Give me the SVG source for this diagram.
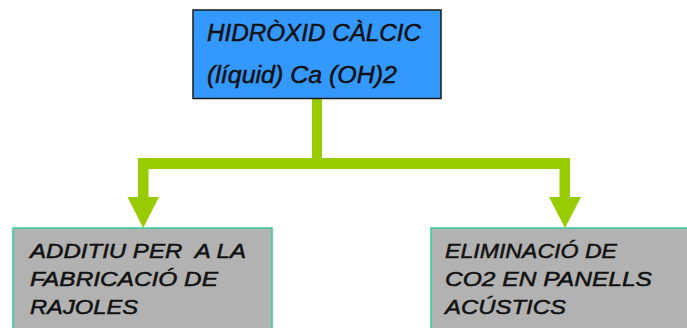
<svg xmlns="http://www.w3.org/2000/svg" width="687" height="328" viewBox="0 0 687 328">
<style>
.t{font-family:"Liberation Sans",Arial,sans-serif;font-style:italic;fill:#111;stroke:#111;stroke-width:0.5;white-space:pre;}
.top{font-size:23px;}
.bot{font-size:20.5px;}
.bar{fill:#99cc00;}
</style>
<rect width="687" height="328" fill="#fff"/>
<g id="connectors">
<rect class="bar" x="312" y="98" width="10" height="71"/>
<rect class="bar" x="138" y="158" width="432" height="11"/>
<rect class="bar" x="138" y="158" width="10.5" height="40"/>
<rect class="bar" x="559.5" y="158" width="10.5" height="40"/>
<polygon class="bar" points="127.5,197 159,197 143.2,228"/>
<polygon class="bar" points="549,197 581,197 565,228"/>
</g>
<g id="node-top">
<rect x="193" y="10" width="248" height="88.5" fill="#3399ff" stroke="#1a1a1a" stroke-width="1.5"/>
<text class="t top" x="207" y="41" textLength="214" lengthAdjust="spacingAndGlyphs">HIDRÒXID CÀLCIC</text>
<text class="t top" x="207" y="83" textLength="190" lengthAdjust="spacingAndGlyphs">(líquid) Ca (OH)2</text>
</g>
<g id="node-left">
<rect x="13" y="228" width="259" height="110" fill="#b2b2b2" stroke="#33cc99" stroke-width="1.5"/>
<text class="t bot" x="30" y="258" textLength="216" lengthAdjust="spacingAndGlyphs">ADDITIU PER  A LA</text>
<text class="t bot" x="30" y="286" textLength="188" lengthAdjust="spacingAndGlyphs">FABRICACIÓ DE</text>
<text class="t bot" x="30" y="314" textLength="108" lengthAdjust="spacingAndGlyphs">RAJOLES</text>
</g>
<g id="node-right">
<rect x="431" y="228" width="270" height="110" fill="#b2b2b2" stroke="#33cc99" stroke-width="1.5"/>
<text class="t bot" x="445" y="258" textLength="172" lengthAdjust="spacingAndGlyphs">ELIMINACIÓ DE</text>
<text class="t bot" x="445" y="286" textLength="207" lengthAdjust="spacingAndGlyphs">CO2 EN PANELLS</text>
<text class="t bot" x="445" y="314" textLength="121" lengthAdjust="spacingAndGlyphs">ACÚSTICS</text>
</g>
</svg>
